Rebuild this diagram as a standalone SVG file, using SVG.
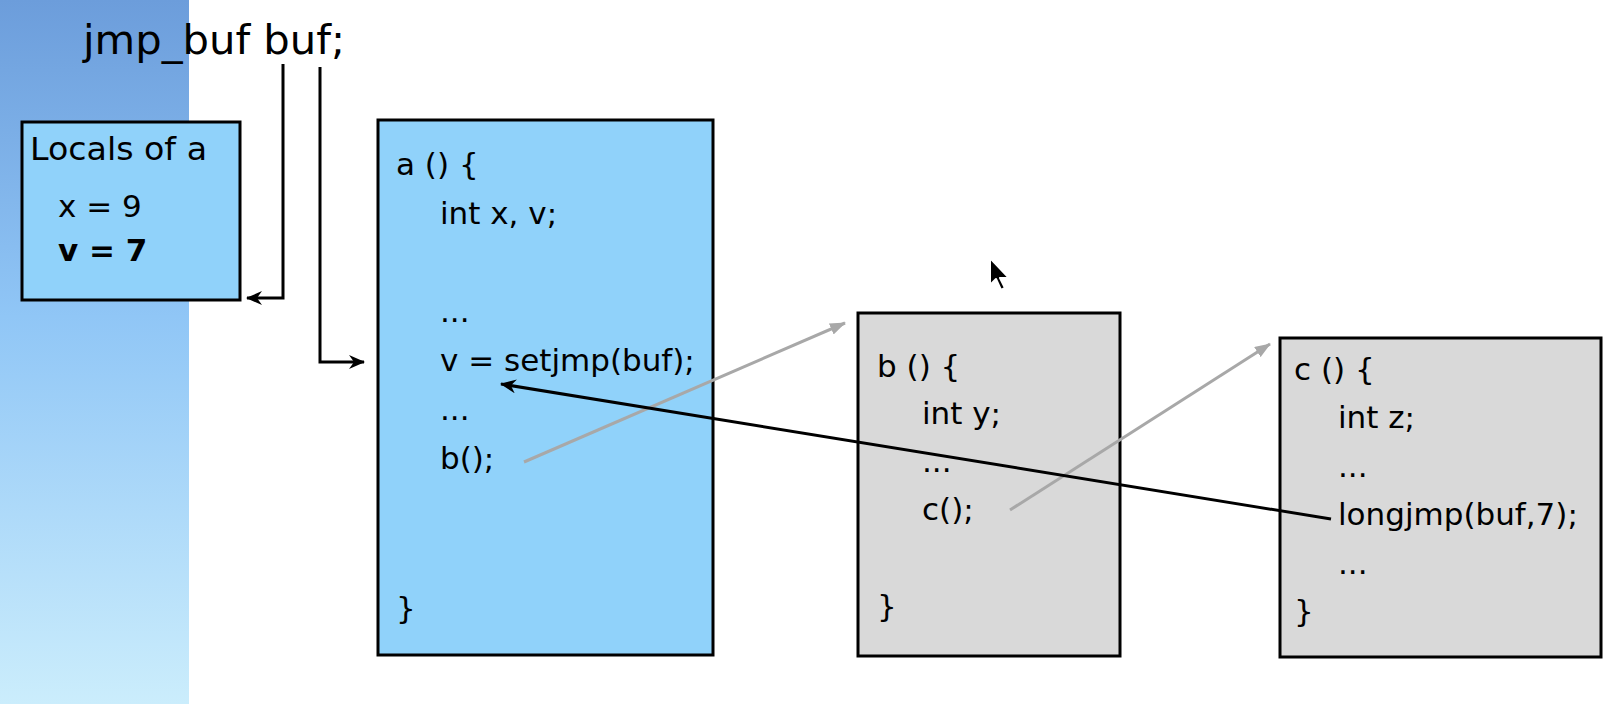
<svg xmlns="http://www.w3.org/2000/svg" width="1620" height="704" viewBox="0 0 1620 704">
<style>
.t{font-family:"DejaVu Sans","Liberation Sans",sans-serif;font-size:31px;fill:#000}
.box{stroke:#000;stroke-width:3}
.blue{fill:#90d2fa}
.gray{fill:#d9d9d9}
.blk{stroke:#000;stroke-width:3;fill:none}
.gry{stroke:#a8a8a8;stroke-width:3;fill:none}
</style>
<defs>
<linearGradient id="band" x1="0" y1="0" x2="0" y2="1">
<stop offset="0" stop-color="#6c9ddb"/>
<stop offset="0.45" stop-color="#90c6f6"/>
<stop offset="1" stop-color="#cbedfc"/>
</linearGradient>
<marker id="ab" viewBox="0 0 16 14" refX="15" refY="7" markerWidth="16" markerHeight="14" markerUnits="userSpaceOnUse" orient="auto">
<path d="M0,0 L16,7 L0,14 L5,7 z" fill="#000"/>
</marker>
<marker id="ag" viewBox="0 0 16 12" refX="15" refY="6" markerWidth="16" markerHeight="12" markerUnits="userSpaceOnUse" orient="auto">
<path d="M0,0 L16,6 L0,12 z" fill="#a8a8a8"/>
</marker>
</defs>
<rect x="0" y="0" width="1620" height="704" fill="#fff"/>
<rect x="0" y="0" width="189" height="704" fill="url(#band)"/>

<text id="title" class="t" x="83" y="54" style="font-size:41px" textLength="262" lengthAdjust="spacingAndGlyphs">jmp_buf buf;</text>

<g id="locals">
<rect class="box blue" x="22" y="122" width="218" height="178"/>
<text class="t" x="30" y="160" style="font-size:32px" textLength="177" lengthAdjust="spacingAndGlyphs">Locals of a</text>
<text class="t" x="58" y="217">x = 9</text>
<text class="t" x="58" y="261" font-weight="bold">v = 7</text>
</g>

<g id="func-a">
<rect class="box blue" x="378" y="120" width="335" height="535"/>
<text class="t" x="396" y="175">a () {</text>
<text class="t" x="440" y="224">int x, v;</text>
<text class="t" x="440" y="322">...</text>
<text class="t" x="440" y="371">v = setjmp(buf);</text>
<text class="t" x="440" y="420">...</text>
<text class="t" x="440" y="469">b();</text>
<text class="t" x="396" y="619">}</text>
</g>

<g id="func-b">
<rect class="box gray" x="858" y="313" width="262" height="343"/>
<text class="t" x="877" y="377">b () {</text>
<text class="t" x="922" y="424">int y;</text>
<text class="t" x="922" y="472">...</text>
<text class="t" x="922" y="520">c();</text>
<text class="t" x="877" y="617">}</text>
</g>

<g id="func-c">
<rect class="box gray" x="1280" y="338" width="321" height="319"/>
<text class="t" x="1294" y="380">c () {</text>
<text class="t" x="1338" y="428">int z;</text>
<text class="t" x="1338" y="477">...</text>
<text class="t" x="1338" y="525">longjmp(buf,7);</text>
<text class="t" x="1338" y="574">...</text>
<text class="t" x="1294" y="622">}</text>
</g>

<g id="connectors">
<polyline class="blk" points="283,64 283,298 247,298" marker-end="url(#ab)"/>
<polyline class="blk" points="320,67 320,362 364,362" marker-end="url(#ab)"/>
<line class="gry" x1="524" y1="462" x2="845" y2="323" marker-end="url(#ag)"/>
<line class="gry" x1="1010" y1="510" x2="1270" y2="344" marker-end="url(#ag)"/>
<line class="blk" x1="1331" y1="519" x2="501" y2="384" marker-end="url(#ab)"/>
</g>

<g id="cursor">
<polygon points="990,258 990,285 996,279 1001,290 1005,288 1000,278 1009,278" fill="#000" stroke="#fff" stroke-width="2" stroke-linejoin="round"/>
</g>
</svg>
